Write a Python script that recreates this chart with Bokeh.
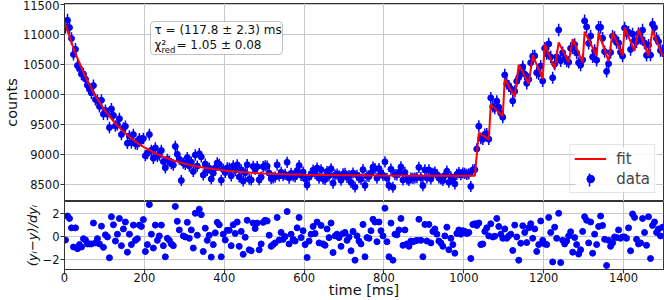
import numpy as np
from bokeh.plotting import figure
from bokeh.models import (ColumnDataSource, Range1d, FixedTicker, Legend, LegendItem,
                          Label, BoxAnnotation, Grid, Arrow)
from bokeh.layouts import column
from bokeh.embed import file_html
from bokeh.resources import INLINE

# ---------------- data ----------------
time_ms = np.arange(2.5, 1500.0, 5.0)

counts = [
    11131, 11246, 11123, 10941, 10675, 10760, 10488, 10444, 10346, 10346,
    10263, 10159, 10094, 10032, 10154, 9923, 9905, 9806, 9909, 9677,
    9739, 9676, 9454, 9765, 9656, 9480, 9502, 9601, 9337, 9447,
    9474, 9191, 9314, 9200, 9337, 9184, 9176, 9266, 9232, 9270,
    8984, 9021, 9336, 9073, 8941, 9114, 8973, 8995, 9070, 8886,
    8782, 8922, 8893, 8852, 8827, 9139, 9007, 8926, 8570, 8859,
    8841, 8952, 8814, 8875, 8720, 8996, 8811, 9017, 8966, 8661,
    8844, 8740, 8776, 8594, 8691, 8782, 8863, 8840, 8575, 8755,
    8703, 8780, 8776, 8647, 8814, 8740, 8831, 8631, 8749, 8560,
    8697, 8833, 8591, 8580, 8805, 8758, 8801, 8581, 8626, 8801,
    8815, 8809, 8692, 8600, 8613, 8625, 8831, 8646, 8707, 8650,
    8671, 8873, 8610, 8688, 8645, 8630, 8736, 8820, 8656, 8711,
    8597, 8493, 8625, 8680, 8742, 8684, 8777, 8607, 8749, 8598,
    8586, 8719, 8648, 8766, 8526, 8661, 8675, 8647, 8575, 8679,
    8688, 8622, 8650, 8538, 8695, 8460, 8658, 8616, 8593, 8751,
    8487, 8643, 8637, 8699, 8792, 8768, 8608, 8768, 8698, 8656,
    8881, 8608, 8486, 8759, 8457, 8669, 8663, 8703, 8796, 8578,
    8703, 8590, 8570, 8612, 8606, 8612, 8617, 8789, 8617, 8484,
    8747, 8612, 8747, 8597, 8690, 8711, 8668, 8612, 8597, 8569,
    8654, 8725, 8540, 8633, 8582, 8512, 8672, 8701, 8667, 8695,
    8689, 8672, 8681, 8470, 8746, 8751, 9097, 9477, 9273, 9257,
    9340, 9348, 9259, 9949, 9802, 9775, 9895, 9793, 9694, 9625,
    10332, 10188, 10148, 10102, 9899, 10059, 10227, 10290, 10378, 10469,
    10345, 10192, 10258, 10535, 10645, 10651, 10369, 10351, 10481, 10231,
    10777, 10688, 10850, 10632, 10285, 10513, 10634, 11083, 10569, 10704,
    10606, 10565, 10545, 10776, 10784, 10839, 10698, 10537, 10498, 10585,
    11234, 11134, 10860, 10983, 10633, 10739, 10578, 11128, 11127, 10945,
    10722, 10391, 10521, 10708, 10978, 10956, 10872, 10865, 10711, 10647,
    11116, 11026, 11044, 10757, 11015, 10906, 10887, 11023, 10945, 11080,
    10864, 10659, 10828, 10664, 11177, 11123, 10942, 10890, 10741, 10735,
]

residuals = [
    -0.33, 1.76, 1.55, 0.73, -0.94, 0.73, -1.09, -0.73, -0.94, -0.21,
    -0.33, -0.67, -0.67, -0.67, 1.15, -0.58, -0.21, -0.67, 0.88, -0.97,
    0.12, -0.06, -1.88, 1.70, 1.00, -0.42, 0.18, 1.55, -0.82, 0.64,
    1.24, -1.39, 0.18, -0.73, 0.97, -0.36, -0.21, 0.97, 0.85, 1.45,
    -1.33, -0.73, 2.76, 0.18, -1.03, 0.97, -0.36, 0.03, 0.97, -0.82,
    -1.79, -0.18, -0.36, -0.67, -0.82, 2.60, 1.30, 0.55, -3.20, 0.03,
    -0.06, 1.21, -0.18, 0.55, -1.03, 2.00, 0.09, 2.36, 1.88, -1.33,
    0.70, -0.36, 0.09, -1.82, -0.73, 0.30, 1.21, 1.00, -1.79, 0.18,
    -0.33, 0.52, 0.52, -0.82, 1.00, 0.24, 1.24, -0.88, 0.42, -1.58,
    -0.09, 1.39, -1.18, -1.27, 1.15, 0.67, 1.15, -1.18, -0.67, 1.21,
    1.39, 1.33, 0.09, -0.88, -0.73, -0.58, 1.64, -0.33, 0.33, -0.27,
    -0.03, 2.15, -0.67, 0.18, -0.27, -0.42, 0.73, 1.64, -0.12, 0.48,
    -0.73, -1.85, -0.42, 0.18, 0.85, 0.24, 1.24, -0.58, 0.94, -0.67,
    -0.79, 0.64, -0.12, 1.15, -1.42, 0.03, 0.18, -0.12, -0.88, 0.24,
    0.33, -0.36, -0.06, -1.27, 0.42, -2.09, 0.03, -0.42, -0.67, 1.03,
    -1.79, -0.12, -0.18, 0.48, 1.48, 1.24, -0.48, 1.24, 0.48, 0.03,
    2.45, -0.48, -1.79, 1.15, -2.09, 0.18, 0.12, 0.55, 1.55, -0.79,
    0.55, -0.67, -0.88, -0.42, -0.48, -0.42, -0.36, 1.48, -0.36, -1.79,
    1.03, -0.42, 1.03, -0.58, 0.42, 0.64, 0.18, -0.42, -0.58, -0.88,
    0.03, 0.79, -1.18, -0.18, -0.73, -1.48, 0.24, 0.55, 0.18, 0.48,
    0.42, 0.24, 0.33, -1.94, 1.03, 1.09, 0.94, 1.15, -0.73, -0.67,
    0.42, 0.73, 0.03, 1.09, -0.06, 0.00, 1.55, 0.85, 0.18, -0.18,
    0.64, -0.18, 0.03, 0.18, -1.24, 0.97, -0.06, -2.09, -0.61, 0.91,
    0.33, -0.55, 0.73, 1.09, -0.18, 0.64, -1.33, -0.73, 1.33, -0.36,
    -0.67, -0.73, 1.64, 0.33, -2.24, 0.79, -0.18, 2.00, -2.30, -0.36,
    -0.67, -0.42, 0.03, 0.39, -1.39, -0.12, -0.73, -1.55, -1.18, 0.42,
    1.70, 1.39, -0.58, 1.24, -1.48, 0.18, -0.73, 0.85, 1.76, 0.94,
    -0.27, -2.55, -0.36, -0.88, -0.58, -0.06, -0.12, 0.55, -0.18, -0.06,
    -0.06, -0.18, 0.73, -1.27, 1.94, 1.64, -0.27, -0.67, -0.58, 1.55,
    0.33, -0.79, 1.70, -1.94, 0.94, 1.24, 0.33, 0.64, 0.03, 0.79,
]

fit_time = [0, 25, 50, 75, 100, 125, 150, 175, 200, 225, 250, 275, 300, 325, 350,
            375, 400, 450, 500, 550, 600, 650, 700, 800, 900, 1027.5,
            1037.5, 1062.5, 1067.5, 1097.5, 1102.5, 1127.5, 1137.5, 1162.5,
            1172.5, 1197.5, 1202.5, 1227.5, 1237.5, 1262.5, 1272.5, 1297.5,
            1302.5, 1332.5, 1337.5, 1362.5, 1372.5, 1397.5, 1402.5, 1427.5,
            1437.5, 1462.5, 1472.5, 1497.5]
fit_counts = [11220, 10729, 10331, 10010, 9750, 9539, 9370, 9232, 9121, 9031, 8958,
              8899, 8851, 8813, 8782, 8757, 8736, 8706, 8687, 8674, 8666, 8660,
              8657, 8653, 8651, 8650,
              9366, 9256, 9841, 9643, 10267, 9962, 10504, 10184,
              10664, 10267, 10847, 10432, 10874, 10542, 10929, 10542,
              11055, 10653, 11039, 10558, 11039, 10653, 11122, 10736,
              11094, 10653, 11078, 10653]

count_ticks = [8500, 9000, 9500, 10000, 10500, 11000, 11500]
resid_ticks = [-2, 0, 2]
time_ticks = [0, 200, 400, 600, 800, 1000, 1200, 1400]

fit_text = "τ = (117.8 ± 2.3) ms"
chi_text = "= 1.05 ± 0.08"

# ---------------- sources ----------------
y = np.array(counts, dtype=float)
dy = np.sqrt(y)
src = ColumnDataSource(dict(t=time_ms, y=y, lo=y - dy, hi=y + dy,
                            r=np.array(residuals, dtype=float)))
fit_src = ColumnDataSource(dict(t=fit_time, y=fit_counts))

FONT = "DejaVu Sans"
GRID = "#c8c8c8"
DARK = "#333333"
LEFT = 62

x_range = Range1d(0, 1500)


def style_axis(ax, ticks):
    ax.ticker = FixedTicker(ticks=ticks)
    ax.axis_line_color = DARK
    ax.major_tick_line_color = DARK
    ax.major_tick_out = 4
    ax.major_tick_in = 0
    ax.minor_tick_line_color = None
    ax.major_label_text_font = FONT
    ax.major_label_text_font_size = "11.5px"
    ax.major_label_text_color = "#111111"
    ax.major_label_standoff = 1
    ax.axis_label_text_font = FONT
    ax.axis_label_text_font_size = "14.5px"
    ax.axis_label_text_font_style = "normal"
    ax.axis_label_text_color = "#111111"
    ax.axis_label_standoff = 0


# ---------------- top panel ----------------
top = figure(width=664, height=201, x_range=x_range, y_range=Range1d(8219, 11525),
             output_backend="svg", toolbar_location=None, x_axis_location=None,
             min_border_left=LEFT, min_border_right=1, min_border_top=3,
             min_border_bottom=0)
top.outline_line_color = DARK
top.outline_line_width = 1
style_axis(top.yaxis[0], count_ticks)
top.yaxis.axis_label = "counts"
top.ygrid.grid_line_color = GRID
top.add_layout(Grid(dimension=0, ticker=FixedTicker(ticks=time_ticks),
                    grid_line_color=GRID))

top.segment(x0="t", y0="lo", x1="t", y1="hi", source=src,
            line_color="blue", line_width=1.5)
pts = top.scatter("t", "y", source=src, size=6, fill_color="blue", line_color="blue")
fit_r = top.line("t", "y", source=fit_src, line_color="red", line_width=2)

# semi-transparent backing for the legend (legend itself is transparent)
top.add_layout(BoxAnnotation(left=511, right=592, bottom=9, top=54,
                             left_units="screen", right_units="screen",
                             top_units="screen", bottom_units="screen",
                             fill_color="white", fill_alpha=0.85, line_color=None))
# vertical error-bar stroke of the "data" legend entry (screen units, frame-relative)
bar = Arrow(end=None, x_start=525, y_start=15, x_end=525, y_end=28,
            start_units="screen", end_units="screen",
            line_color="blue", line_width=1.5)
top.add_layout(bar)

legend = Legend(items=[LegendItem(label="fit", renderers=[fit_r]),
                       LegendItem(label="data", renderers=[pts])],
                location="bottom_right")
legend.label_text_font = FONT
legend.label_text_font_size = "15px"
legend.glyph_width = 32
legend.glyph_height = 19
legend.label_standoff = 10
legend.label_height = 19
legend.padding = 4
legend.spacing = 1
legend.margin = 8
legend.border_line_color = "#cccccc"
legend.border_line_width = 1
legend.background_fill_alpha = 0.0
top.add_layout(legend)

# text box (screen units relative to the frame)
box = BoxAnnotation(left=86, right=218, top=180, bottom=147,
                    left_units="screen", right_units="screen",
                    top_units="screen", bottom_units="screen",
                    fill_color="white", fill_alpha=1.0,
                    line_color=DARK, line_width=1, border_radius=4)
top.add_layout(box)
for txt, xx, yy, fs in [(fit_text, 90, 171.5, "12px"),
                        ("χ²", 90, 156.5, "12px"),
                        ("red", 97, 151.5, "8.5px"),
                        (chi_text, 112, 156.5, "12px")]:
    top.add_layout(Label(text=txt, x=xx, y=yy, x_units="screen", y_units="screen",
                         text_font=FONT, text_font_size=fs, text_color="#111111",
                         text_align="left", text_baseline="middle"))

# ---------------- residual panel ----------------
bot = figure(width=664, height=99, x_range=x_range, y_range=Range1d(-2.9, 3.03),
             output_backend="svg", toolbar_location=None,
             min_border_left=LEFT, min_border_right=1, min_border_top=0,
             min_border_bottom=0)
bot.outline_line_color = DARK
bot.outline_line_width = 1
style_axis(bot.yaxis[0], resid_ticks)
style_axis(bot.xaxis[0], time_ticks)
bot.yaxis.major_label_overrides = {-2: "−2", 0: "0", 2: "2"}
bot.yaxis.axis_label = "(yᵢ−y)/dyᵢ"
bot.yaxis.axis_label_text_font_size = "13px"
bot.yaxis.axis_label_text_font_style = "italic"
bot.xaxis.axis_label = "time [ms]"
bot.xaxis.axis_label_standoff = -3
bot.xaxis.major_label_standoff = -1
bot.xgrid.grid_line_color = GRID
bot.ygrid.grid_line_color = GRID
bot.scatter("t", "r", source=src, size=6, fill_color="blue", line_color="blue")

layout = column(top, bot, spacing=0)

open("out.html", "w").write(file_html(layout, INLINE))
